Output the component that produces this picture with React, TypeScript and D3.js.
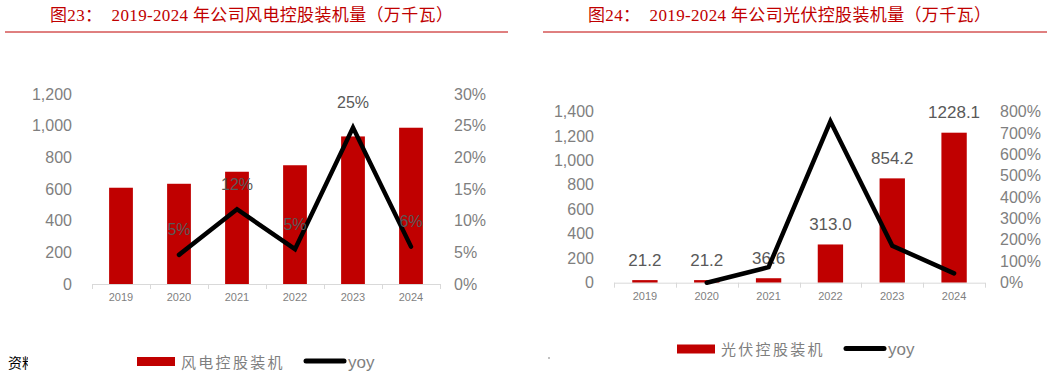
import React from "react";
import * as d3 from "d3";

const years = ["2019", "2020", "2021", "2022", "2023", "2024"];

// 风电
const windValues = [608, 633, 709, 750, 932, 987];
const windYoy = [null, 4.6, 11.8, 5.5, 24.7, 5.9];
const windYoyLabels = ["", "5%", "12%", "5%", "25%", "6%"];
const windLeftTicks = [0, 200, 400, 600, 800, 1000, 1200];
const windRightTicks = [0, 5, 10, 15, 20, 25, 30];

// 光伏
const solarValues = [21.2, 21.2, 36.6, 313.0, 854.2, 1228.1];
const solarYoy = [null, 0, 72.6, 755, 172.9, 43.8];
const solarLeftTicks = [0, 200, 400, 600, 800, 1000, 1200, 1400];
const solarRightTicks = [0, 100, 200, 300, 400, 500, 600, 700, 800];

const RED = "#c00000";
const GREY = "#7f7f7f";
const LABEL = "#595959";
const SANS = "'Liberation Sans', Arial, sans-serif";
const CJK = "'Liberation Serif', 'Noto Sans CJK SC', serif";

const fmt = d3.format(",");

const Chart = ({ values, yoy, leftTicks, rightTicks, leftMax, rightMax, x0, x1, yTop, yBottom, leftLabelX, rightLabelX, barLabels, yoyLabels, axisLabelY }) => {
  const x = d3.scaleBand().domain(years).range([x0, x1]).paddingInner(0.59).paddingOuter(0.295);
  const xb = d3.scaleBand().domain(years).range([x0, x1]);
  const y = d3.scaleLinear().domain([0, leftMax]).range([yBottom, yTop]);
  const y2 = d3.scaleLinear().domain([0, rightMax]).range([yBottom, yTop]);
  const pts = years.map((yr, i) => ({ yr, v: yoy[i] })).filter(d => d.v !== null);
  const line = d3.line()
    .x(d => xb(d.yr) + xb.bandwidth() / 2)
    .y(d => y2(d.v));

  return (
    <g>
      {leftTicks.map(t => (
        <text key={"l" + t} x={leftLabelX} y={y(t)} textAnchor="end" dominantBaseline="central" fontSize="16" fill={GREY} fontFamily={SANS}>{fmt(t)}</text>
      ))}
      {rightTicks.map(t => (
        <text key={"r" + t} x={rightLabelX} y={y2(t)} dominantBaseline="central" fontSize="16" fill={GREY} fontFamily={SANS}>{t + "%"}</text>
      ))}
      {years.map((yr, i) => (
        <rect key={yr} x={x(yr)} y={y(values[i])} width={x.bandwidth()} height={yBottom - y(values[i])} fill={RED} />
      ))}
      <line x1={x0} x2={x1} y1={yBottom + 0.5} y2={yBottom + 0.5} stroke="#d9d9d9" />
      {d3.range(years.length + 1).map(i => {
        const px = Math.round(x0 + i * xb.step()) + 0.5;
        return <line key={i} x1={px} x2={px} y1={yBottom} y2={yBottom + 5} stroke="#d9d9d9" />;
      })}
      {years.map(yr => (
        <text key={"x" + yr} x={xb(yr) + xb.bandwidth() / 2} y={axisLabelY} textAnchor="middle" dominantBaseline="central" fontSize="11" fill={GREY} fontFamily={SANS}>{yr}</text>
      ))}
      {barLabels && years.map((yr, i) => (
        <text key={"b" + yr} x={xb(yr) + xb.bandwidth() / 2} y={y(values[i]) - 20} textAnchor="middle" dominantBaseline="central" fontSize="17" fill={LABEL} fontFamily={SANS}>{values[i].toFixed(1)}</text>
      ))}
      <path d={line(pts)} fill="none" stroke="#000" strokeWidth="4.5" strokeLinejoin="miter" strokeLinecap="round" />
      {yoyLabels && years.map((yr, i) => yoyLabels[i] ? (
        <text key={"y" + yr} x={xb(yr) + xb.bandwidth() / 2} y={y2(yoy[i]) - 25} textAnchor="middle" dominantBaseline="central" fontSize="16" fill={LABEL} fontFamily={SANS}>{yoyLabels[i]}</text>
      ) : null)}
    </g>
  );
};

const Legend = ({ x, y, name }) => (
  <g>
    <rect x={x} y={y - 4} width={38} height={9} fill={RED} />
    <text x={x + 44} y={y} dominantBaseline="central" fontSize="15" letterSpacing="2.3" fill={GREY} fontFamily="'Noto Sans CJK SC', sans-serif">{name}</text>
    <line x1={x + 169} x2={x + 207} y1={y} y2={y} stroke="#000" strokeWidth="5" strokeLinecap="round" />
    <text x={x + 211} y={y + 1} dominantBaseline="central" fontSize="17" fill={GREY} fontFamily={SANS}>yoy</text>
  </g>
);

export default function App() {
  return (
    <svg width={1059} height={385} style={{ position: "absolute", left: 0, top: 0, background: "#fff" }}>
      <defs>
        <clipPath id="srcClip"><rect x="0" y="340" width="28" height="40" /></clipPath>
      </defs>
      <text x={50} y={15} dominantBaseline="central" fontSize="17" letterSpacing="0.35" fill={RED} fontFamily={CJK} xmlSpace="preserve">{"图23：  2019-2024 年公司风电控股装机量（万千瓦）"}</text>
      <line x1={5} x2={508} y1={32} y2={32} stroke={RED} strokeWidth="1" />
      <text x={588} y={15} dominantBaseline="central" fontSize="17" letterSpacing="0.35" fill={RED} fontFamily={CJK} xmlSpace="preserve">{"图24：  2019-2024 年公司光伏控股装机量（万千瓦）"}</text>
      <line x1={543} x2={1047} y1={32} y2={32} stroke={RED} strokeWidth="1" />

      <Chart values={windValues} yoy={windYoy} leftTicks={windLeftTicks} rightTicks={windRightTicks}
        leftMax={1200} rightMax={30} x0={92} x1={440} yTop={94} yBottom={284}
        leftLabelX={72} rightLabelX={454} barLabels={false} yoyLabels={windYoyLabels} axisLabelY={297} />
      <Chart values={solarValues} yoy={solarYoy} leftTicks={solarLeftTicks} rightTicks={solarRightTicks}
        leftMax={1400} rightMax={800} x0={614} x1={985} yTop={111.7} yBottom={282.7}
        leftLabelX={594} rightLabelX={1000} barLabels={true} yoyLabels={null} axisLabelY={296} />

      <Legend x={137} y={361} name="风电控股装机" />
      <Legend x={677} y={348.5} name="光伏控股装机" />

      <text x={8} y={362} dominantBaseline="central" fontSize="14" fill="#000" clipPath="url(#srcClip)" fontFamily="'Noto Sans CJK SC', serif">资料来源</text>
      <circle cx={549} cy={358} r={0.7} fill="#555" />
    </svg>
  );
}
